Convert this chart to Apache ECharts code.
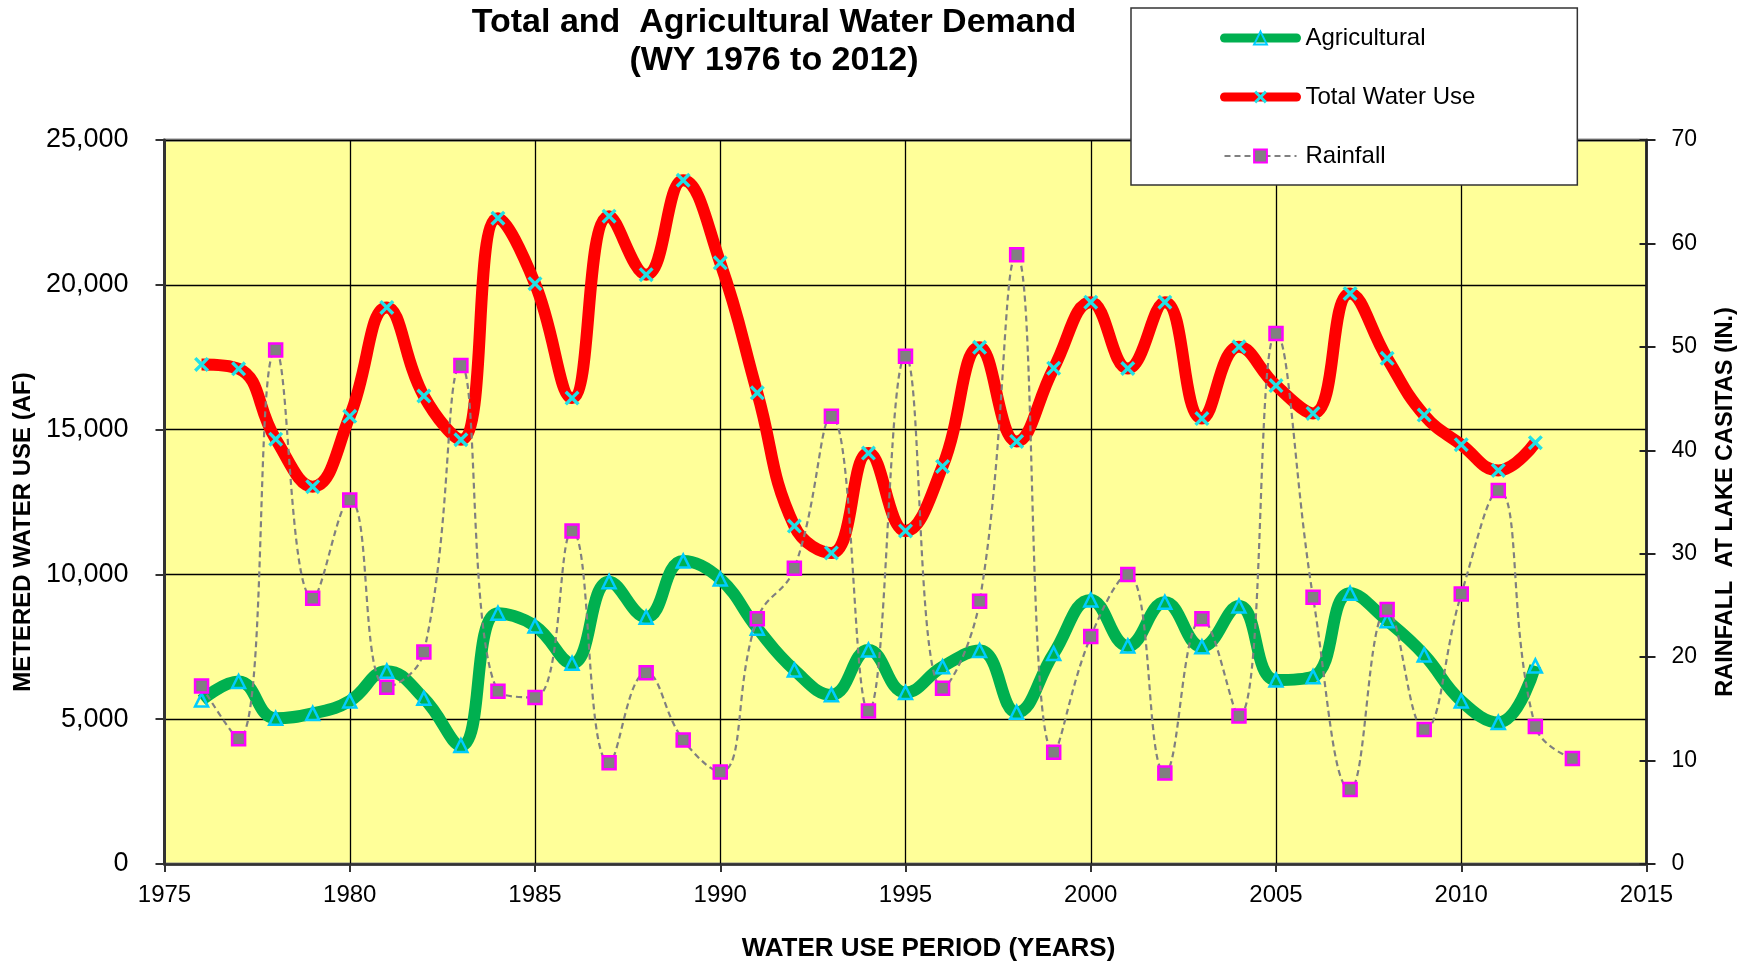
<!DOCTYPE html>
<html>
<head>
<meta charset="utf-8">
<title>Total and Agricultural Water Demand</title>
<script src="https://cdn.jsdelivr.net/npm/echarts/dist/echarts.min.js"></script>
<style>
  html, body { margin: 0; padding: 0; background: #fff; }
  #chart { width: 1750px; height: 961px; }
</style>
</head>
<body>
<div id="chart"></div>
<script>
// water year, metered use in AF
var years = [1976, 1977, 1978, 1979, 1980, 1981, 1982, 1983, 1984, 1985,
             1986, 1987, 1988, 1989, 1990, 1991, 1992, 1993, 1994, 1995,
             1996, 1997, 1998, 1999, 2000, 2001, 2002, 2003, 2004, 2005,
             2006, 2007, 2008, 2009, 2010, 2011, 2012];
var agricultural = [5660, 6300, 5030, 5200, 5630, 6660, 5720, 4090, 8660, 8220,
                    6930, 9750, 8520, 10460, 9840, 8140, 6700, 5840, 7390, 5920,
                    6810, 7370, 5240, 7270, 9120, 7530, 9040, 7500, 8910, 6350,
                    6470, 9350, 8400, 7220, 5630, 4890, 6840];
var totalUse = [17250, 17100, 14670, 13030, 15460, 19220, 16160, 14650, 22300, 20040,
                16090, 22370, 20350, 23610, 20760, 16270, 11670, 10740, 14190, 11500,
                13730, 17840, 14590, 17120, 19400, 17110, 19400, 15380, 17860, 16520,
                15560, 19700, 17460, 15500, 14480, 13590, 14550];
// rainfall at Lake Casitas, inches (runs one year longer)
var rainYears = years.concat([2013]);
var rainfall = [17.2, 12.1, 49.7, 25.7, 35.2, 17.1, 20.5, 48.2, 16.7, 16.1,
                32.2, 9.8, 18.5, 12.0, 8.9, 23.7, 28.6, 43.3, 14.8, 49.1,
                17.0, 25.4, 58.9, 10.8, 22.0, 28.0, 8.8, 23.7, 14.3, 51.3,
                25.8, 7.2, 24.6, 13.0, 26.1, 36.1, 13.3, 10.2];

function pairs(xs, ys) {
  return xs.map(function (x, i) { return [x, ys[i]]; });
}

var FONT = '"Liberation Sans", Arial, sans-serif';
var xMark = 'path://M0,1.6 L1.6,0 L5,3.4 L8.4,0 L10,1.6 L6.6,5 L10,8.4 L8.4,10 L5,6.6 L1.6,10 L0,8.4 L3.4,5 Z';

var myChart = echarts.init(document.getElementById('chart'));

myChart.setOption({
  animation: false,
  textStyle: { fontFamily: FONT, color: '#000' },
  title: {
    text: 'Total and  Agricultural Water Demand\n(WY 1976 to 2012)',
    left: 769,
    top: -1,
    textAlign: 'center',
    textStyle: { fontSize: 34, fontWeight: 'bold', lineHeight: 38, fontFamily: FONT, color: '#000' }
  },
  legend: {
    orient: 'vertical',
    left: 1131,
    top: 8,
    padding: [18, 102, 17, 89],
    itemGap: 35,
    itemWidth: 72,
    itemHeight: 16,
    backgroundColor: '#fff',
    borderColor: '#333',
    borderWidth: 1.5,
    textStyle: { fontSize: 24, fontFamily: FONT, color: '#000', padding: [0, 0, 0, 4] },
    data: [
      { name: 'Agricultural', lineStyle: { width: 9, cap: 'round' } },
      { name: 'Total Water Use', lineStyle: { width: 9, cap: 'round' } },
      { name: 'Rainfall', lineStyle: { width: 2, type: [6, 4] } }
    ]
  },
  grid: {
    left: 164.5,
    right: 103.5,
    top: 140,
    bottom: 97,
    outerBoundsMode: 'none',
    containLabel: false,
    show: true,
    backgroundColor: '#FFFF99',
    borderColor: '#8c8c8c',
    borderWidth: 3
  },
  xAxis: {
    type: 'value',
    min: 1975,
    max: 2015,
    interval: 5,
    name: 'WATER USE PERIOD (YEARS)',
    nameLocation: 'middle',
    nameGap: 72,
    nameTextStyle: { fontSize: 26, fontWeight: 'bold', color: '#000', padding: [0, 0, 0, 46] },
    axisLine: { lineStyle: { color: '#333', width: 2.5 } },
    axisTick: { length: 8, lineStyle: { color: '#333', width: 2 } },
    axisLabel: {
      fontSize: 24,
      margin: 19,
      color: '#000',
      formatter: function (v) { return String(v); }
    },
    splitLine: { lineStyle: { color: '#000', width: 1.3 } }
  },
  yAxis: [
    {
      type: 'value',
      min: 0,
      max: 25000,
      interval: 5000,
      name: 'METERED WATER USE (AF)',
      nameLocation: 'middle',
      nameGap: 128,
      nameTextStyle: { fontSize: 24, fontWeight: 'bold', color: '#000', padding: [0, 60, 0, 0] },
      axisLine: { show: true, lineStyle: { color: '#333', width: 3 } },
      axisTick: { show: true, length: 9, lineStyle: { color: '#333', width: 2 } },
      axisLabel: {
        fontSize: 27,
        margin: 36,
        color: '#000',
        formatter: function (v) { return v.toLocaleString('en-US'); }
      },
      splitLine: { lineStyle: { color: '#000', width: 1.3 } }
    },
    {
      type: 'value',
      position: 'right',
      min: 0,
      max: 70,
      interval: 10,
      name: 'RAINFALL  AT LAKE CASITAS (IN.)',
      nameLocation: 'middle',
      nameGap: 67,
      nameTextStyle: { fontSize: 23.5, fontWeight: 'bold', color: '#000' },
      axisLine: { show: true, lineStyle: { color: '#222', width: 2.5 } },
      axisTick: { show: true, length: 9, lineStyle: { color: '#222', width: 2 } },
      axisLabel: { fontSize: 23, margin: 25, color: '#000' },
      splitLine: { show: false }
    },
    {
      // inner half of the crossing ticks on the rainfall axis
      type: 'value',
      position: 'right',
      min: 0,
      max: 70,
      interval: 10,
      axisLine: { show: false },
      axisTick: { show: true, inside: true, length: 7, lineStyle: { color: '#222', width: 2 } },
      axisLabel: { show: false },
      splitLine: { show: false }
    }
  ],
  series: [
    {
      name: 'Agricultural',
      type: 'line',
      yAxisIndex: 0,
      data: pairs(years, agricultural),
      smooth: 0.45,
      lineStyle: { color: '#00B050', width: 12 },
      symbol: 'triangle',
      symbolSize: 13,
      itemStyle: { color: 'rgba(0,0,0,0)', borderColor: '#00CCFF', borderWidth: 2.5 },
      z: 3
    },
    {
      name: 'Total Water Use',
      type: 'line',
      yAxisIndex: 0,
      data: pairs(years, totalUse),
      smooth: 0.45,
      lineStyle: { color: '#FF0000', width: 12 },
      symbol: xMark,
      symbolSize: 15,
      itemStyle: { color: '#22E0E6', borderWidth: 0 },
      z: 2
    },
    {
      name: 'Rainfall',
      type: 'line',
      yAxisIndex: 1,
      data: pairs(rainYears, rainfall),
      smooth: 0.45,
      lineStyle: { color: '#808080', width: 2.2, type: [6, 4] },
      symbol: 'rect',
      symbolSize: 13,
      itemStyle: { color: '#808080', borderColor: '#FF00FF', borderWidth: 2.5 },
      z: 4
    }
  ]
});
</script>
</body>
</html>
